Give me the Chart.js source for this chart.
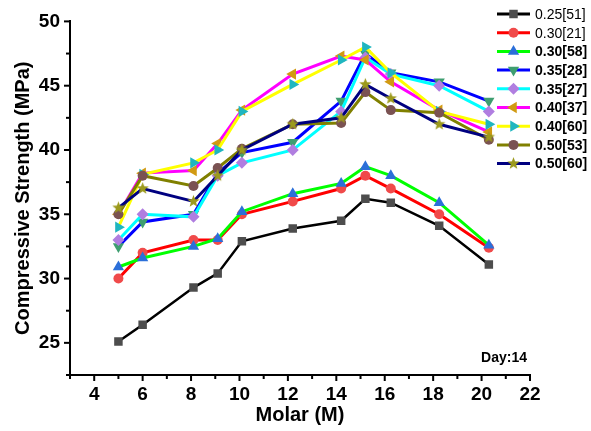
<!DOCTYPE html>
<html>
<head>
<meta charset="utf-8">
<script src="https://cdn.jsdelivr.net/npm/chart.js@4.4.1/dist/chart.umd.min.js"></script>
<style>
    html, body { margin: 0; padding: 0; background: #fff; }
</style>
</head>
<body>
<canvas id="line-charts" width="591" height="431"></canvas>
<script>
// x positions of the measured points (as they sit on the plot)
const molar = [5, 6, 8.1, 9.1, 10.1, 12.2, 14.2, 15.2, 16.25, 18.25, 20.3];

// compressive strength, MPa
const s025_51 = [25.1, 26.4, 29.3, 30.4, 32.9, 33.9, 34.5, 36.2, 35.9, 34.1, 31.1];
const s030_21 = [30.0, 32.0, 33.0, 33.0, 35.0, 36.0, 37.0, 38.0, 37.0, 35.0, 32.4];
const s030_58 = [30.9, 31.6, 32.5, 33.1, 35.2, 36.6, 37.4, 38.7, 38.0, 35.9, 32.6];
const s035_28 = [32.5, 34.4, 35.0, 38.2, 39.8, 40.6, 43.8, 47.5, 46.0, 45.3, 43.8];
const s035_27 = [33.0, 35.0, 34.8, 38.0, 39.0, 40.0, 43.0, 47.2, 45.9, 45.0, 43.0];
const s040_37 = [35.0, 38.2, 38.4, 40.5, 43.1, 45.9, 47.3, 47.0, 45.3, 43.1, 41.4];
const s040_60 = [34.0, 38.1, 39.0, 40.0, 43.0, 45.1, 47.0, 48.0, 46.0, 43.0, 42.0];
const s050_53 = [35.0, 38.0, 37.2, 38.6, 40.1, 42.0, 42.1, 44.5, 43.1, 42.9, 40.8];
const s050_60 = [35.5, 37.0, 36.0, 38.0, 40.0, 42.0, 42.5, 45.1, 44.0, 42.0, 41.0];

const seriesLabels = ['0.25[51]', '0.30[21]', '0.30[58]', '0.35[28]', '0.35[27]',
                      '0.40[37]', '0.40[60]', '0.50[53]', '0.50[60]'];
const seriesValues = [s025_51, s030_21, s030_58, s035_28, s035_27, s040_37, s040_60, s050_53, s050_60];

const xTicks = [4, 6, 8, 10, 12, 14, 16, 18, 20, 22];
const yTicks = [25, 30, 35, 40, 45, 50];

const FONT = "'Liberation Sans', Arial, sans-serif";

// filled five point star used as marker for the last series
function makeStar(color, r) {
    const c = document.createElement('canvas');
    c.width = c.height = Math.ceil(r * 2 + 2);
    const g = c.getContext('2d');
    const cx = c.width / 2, cy = c.height / 2;
    g.beginPath();
    for (let i = 0; i < 10; i++) {
        const rr = i % 2 === 0 ? r : r * 0.42;
        const a = -Math.PI / 2 + i * Math.PI / 5;
        g.lineTo(cx + rr * Math.cos(a), cy + rr * Math.sin(a));
    }
    g.closePath();
    g.fillStyle = color;
    g.fill();
    return c;
}

const styles = [
    { line: '#000000', mark: '#4d4d4d', shape: 'rect', radius: 6, rot: 0, width: 2.5 },
    { line: '#ff0000', mark: '#f04a4a', shape: 'circle', radius: 5, rot: 0, width: 3 },
    { line: '#00ff00', mark: '#2b6fd9', shape: 'triangle', radius: 6.5, rot: 0, width: 3 },
    { line: '#0000ff', mark: '#3e9e70', shape: 'triangle', radius: 6.5, rot: 180, width: 3 },
    { line: '#00ffff', mark: '#b07ee0', shape: 'rectRot', radius: 6, rot: 0, width: 3 },
    { line: '#ff00ff', mark: '#d19a12', shape: 'triangle', radius: 6.5, rot: 270, width: 3 },
    { line: '#ffff00', mark: '#1fb6c0', shape: 'triangle', radius: 6.5, rot: 90, width: 3 },
    { line: '#808000', mark: '#7a5252', shape: 'circle', radius: 5, rot: 0, width: 3 },
    { line: '#000080', mark: '#9c9a1c', shape: makeStar('#9c9a1c', 6.5), radius: 6.5, rot: 0, width: 3 }
];

const datasets = seriesValues.map((vals, i) => ({
    label: seriesLabels[i],
    data: vals.map((v, k) => ({ x: molar[k], y: v })),
    borderColor: styles[i].line,
    borderWidth: styles[i].width,
    backgroundColor: styles[i].mark,
    pointStyle: styles[i].shape,
    pointRadius: styles[i].radius,
    pointRotation: styles[i].rot,
    pointBackgroundColor: styles[i].mark,
    pointBorderWidth: 0,
    tension: 0,
    order: seriesValues.length - i // later series on top
}));

// outward tick marks, long on labelled values, short in between
const tickMarks = {
    id: 'tickMarks',
    afterDraw(chart) {
        const ctx = chart.ctx;
        const xs = chart.scales.x, ys = chart.scales.y;
        const area = chart.chartArea;
        ctx.save();
        ctx.strokeStyle = '#000';
        ctx.lineWidth = 2;
        for (let v = 3; v <= 22; v++) {
            const px = xs.getPixelForValue(v);
            const len = xTicks.includes(v) ? 6 : 4;
            ctx.beginPath();
            ctx.moveTo(px, area.bottom);
            ctx.lineTo(px, area.bottom + len);
            ctx.stroke();
        }
        for (let v = 22.5; v <= 50; v += 2.5) {
            const py = ys.getPixelForValue(v);
            const len = yTicks.includes(v) ? 6 : 4;
            ctx.beginPath();
            ctx.moveTo(area.left, py);
            ctx.lineTo(area.left - len, py);
            ctx.stroke();
        }
        ctx.restore();
    }
};

// legend box in the top right corner plus the "Day:14" note
const sideLegend = {
    id: 'sideLegend',
    afterDraw(chart) {
        const ctx = chart.ctx;
        ctx.save();
        datasets.forEach((ds, i) => {
            const y = 14 + i * 18.7;
            ctx.strokeStyle = ds.borderColor;
            ctx.lineWidth = 3;
            ctx.beginPath();
            ctx.moveTo(497, y);
            ctx.lineTo(530, y);
            ctx.stroke();
            ctx.fillStyle = ds.pointBackgroundColor;
            Chart.helpers.drawPoint(ctx, {
                pointStyle: ds.pointStyle,
                radius: ds.pointRadius,
                rotation: ds.pointRotation,
                borderWidth: 0
            }, 513.5, y);
            ctx.fillStyle = '#000';
            ctx.textBaseline = 'middle';
            ctx.textAlign = 'left';
            ctx.font = (i < 2 ? '' : 'bold ') + '14px ' + FONT;
            ctx.fillText(ds.label, 535, y + 1);
        });
        ctx.font = 'bold 14px ' + FONT;
        ctx.textAlign = 'right';
        ctx.fillText('Day:14', 527, 358);
        ctx.restore();
    }
};

new Chart(document.getElementById('line-charts').getContext('2d'), {
    type: 'line',
    data: { datasets: datasets },
    options: {
        responsive: false,
        animation: false,
        devicePixelRatio: 1,
        layout: { padding: { top: 21, right: 61, left: 0, bottom: 0 } },
        plugins: {
            legend: { display: false },
            tooltip: { enabled: false }
        },
        scales: {
            x: {
                type: 'linear',
                min: 3,
                max: 22,
                afterFit: s => { s.height = 56; },
                afterBuildTicks: s => { s.ticks = xTicks.map(v => ({ value: v })); },
                ticks: {
                    autoSkip: false,
                    maxRotation: 0,
                    padding: 8,
                    color: '#000',
                    font: { family: FONT, size: 19, weight: 'bold' }
                },
                grid: { display: false, drawTicks: false },
                border: { display: true, color: '#000', width: 2 },
                title: {
                    display: true,
                    text: 'Molar (M)',
                    color: '#000',
                    font: { family: FONT, size: 20, weight: 'bold' },
                    padding: { top: 0, bottom: 4 }
                }
            },
            y: {
                min: 22.5,
                max: 50,
                afterFit: s => { s.width = 70; },
                afterBuildTicks: s => { s.ticks = yTicks.map(v => ({ value: v })); },
                ticks: {
                    autoSkip: false,
                    padding: 10,
                    color: '#000',
                    font: { family: FONT, size: 19, weight: 'bold' }
                },
                grid: { display: false, drawTicks: false },
                border: { display: true, color: '#000', width: 2 },
                title: {
                    display: true,
                    text: 'Compressive Strength (MPa)',
                    color: '#000',
                    font: { family: FONT, size: 20, weight: 'bold' },
                    padding: { top: 11, bottom: 0 }
                }
            }
        }
    },
    plugins: [tickMarks, sideLegend]
});
</script>
</body>
</html>
